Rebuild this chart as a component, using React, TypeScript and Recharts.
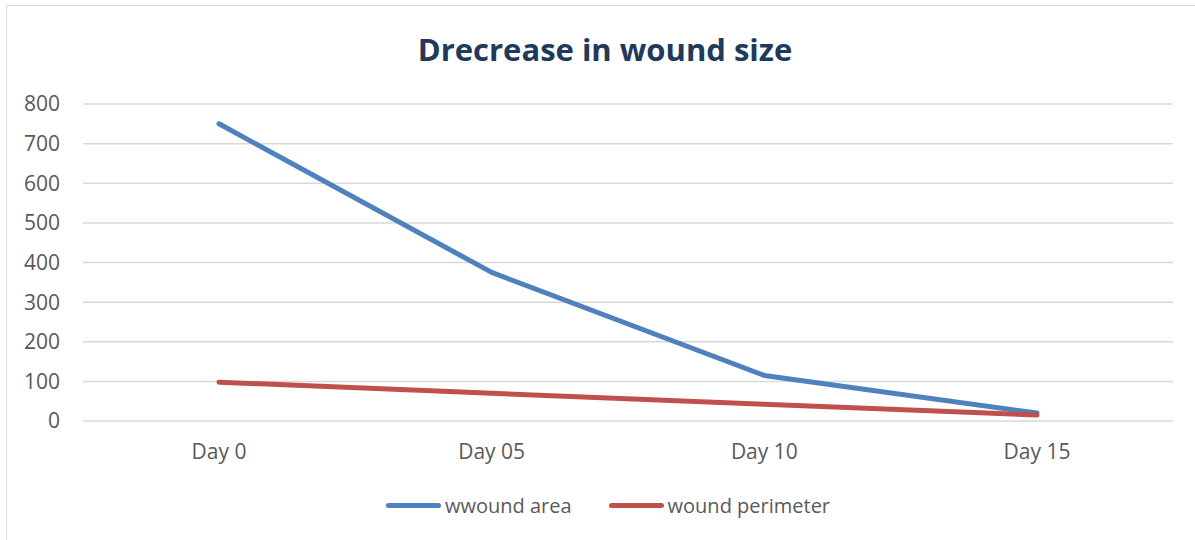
import React from "react";
import { LineChart, Line, XAxis, YAxis, CartesianGrid, Legend } from "recharts";

const categories = ["Day 0", "Day 05", "Day 10", "Day 15"];
const woundArea = [750, 375, 115, 20];
const woundPerimeter = [98, 70, 42, 15];
const yTicks = [0, 100, 200, 300, 400, 500, 600, 700, 800];
const seriesNames = ["wwound area", "wound perimeter"];

const data = categories.map((day, i) => ({
  day,
  area: woundArea[i],
  perimeter: woundPerimeter[i],
}));

const FONT = "'Open Sans', 'Noto Sans', sans-serif";

const renderLegend = (props: any) => {
  const payload = [...(props.payload || [])].sort(
    (a: any, b: any) => seriesNames.indexOf(a.value) - seriesNames.indexOf(b.value)
  );
  return (
    <div
      style={{
        display: "flex",
        justifyContent: "center",
        alignItems: "center",
        width: 1216,
        height: 30,
        fontFamily: FONT,
        fontSize: 20,
        color: "#595959",
      }}
    >
      {payload.map((p: any, i: number) => (
        <div
          key={i}
          style={{ display: "flex", alignItems: "center", marginLeft: i === 0 ? 0 : 37 }}
        >
          <div
            style={{
              width: 55,
              height: 5,
              borderRadius: 3,
              background: p.color,
              marginRight: 4,
            }}
          />
          <span>{p.value}</span>
        </div>
      ))}
    </div>
  );
};

export default function App() {
  return (
    <div
      style={{
        position: "fixed",
        left: 0,
        top: 0,
        width: 1195,
        height: 540,
        overflow: "hidden",
        background: "#fff",
      }}
    >
      <div
        style={{
          position: "absolute",
          left: 6,
          top: 5,
          width: 1300,
          height: 700,
          border: "1px solid #D9D9D9",
        }}
      />
      <svg
        width={1195}
        height={80}
        style={{ position: "absolute", left: 0, top: 0 }}
      >
        <text
          x={605}
          y={61}
          textAnchor="middle"
          fontFamily={FONT}
          fontWeight={700}
          fontSize={31}
          fill="#213A5C"
        >
          Drecrease in wound size
        </text>
      </svg>
      <div style={{ position: "absolute", left: 0, top: 0 }}>
        <LineChart
          width={1195}
          height={540}
          data={data}
          margin={{ top: 104, right: 22, left: 0, bottom: 0 }}
        >
          <CartesianGrid vertical={false} stroke="#D9D9D9" strokeWidth={1.5} />
          <XAxis
            dataKey="day"
            height={119}
            padding={{ left: 136, right: 136 }}
            axisLine={false}
            tickLine={false}
            tickSize={0}
            tickMargin={23}
            tick={{ fill: "#595959", fontSize: 21, fontFamily: FONT }}
          />
          <YAxis
            width={83}
            domain={[0, 800]}
            ticks={yTicks}
            axisLine={false}
            tickLine={false}
            tickSize={0}
            tickMargin={23}
            tick={{ fill: "#595959", fontSize: 21, fontFamily: FONT }}
          />
          <Legend
            verticalAlign="middle"
            align="center"
            content={renderLegend}
            wrapperStyle={{ position: "absolute", top: 490, left: 0, width: 1216 }}
          />
          <Line
            type="linear"
            dataKey="area"
            name="wwound area"
            stroke="#4F81BD"
            strokeWidth={5}
            strokeLinecap="round"
            strokeLinejoin="round"
            dot={false}
            isAnimationActive={false}
          />
          <Line
            type="linear"
            dataKey="perimeter"
            name="wound perimeter"
            stroke="#C0504D"
            strokeWidth={5}
            strokeLinecap="round"
            strokeLinejoin="round"
            dot={false}
            isAnimationActive={false}
          />
        </LineChart>
      </div>
    </div>
  );
}
